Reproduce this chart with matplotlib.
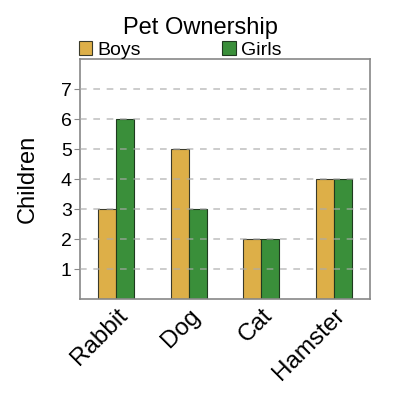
import matplotlib
matplotlib.use("Agg")
import matplotlib.pyplot as plt
import numpy as np

plt.rcParams['font.family'] = ['Liberation Sans', 'DejaVu Sans']

# chart data
pets = ["Rabbit", "Dog", "Cat", "Hamster"]
boys = [3, 5, 2, 4]
girls = [6, 3, 2, 4]

boy_color = "#DDAF48"
girl_color = "#3A8F3A"

fig = plt.figure(figsize=(4, 4), dpi=100)
ax = fig.add_axes([0.20, 0.2525, 0.725, 0.60])

x = np.arange(len(pets))
w = 0.25
ax.bar(x - w / 2, boys, w, color=boy_color, edgecolor="#3a3a2a", linewidth=0.8, label="Boys")
ax.bar(x + w / 2, girls, w, color=girl_color, edgecolor="#1f3a1f", linewidth=0.8, label="Girls")

ax.set_xlim(-0.5, len(pets) - 0.5)
ax.set_ylim(0, 8)
ax.set_yticks(range(1, 8))
ax.tick_params(axis='y', labelsize=14, length=4, color="#888888", pad=2)
ax.tick_params(axis='x', length=0, labelsize=17.5, pad=4)
ax.set_xticks(x)
ax.set_xticklabels(pets, rotation=45, ha='right', rotation_mode='anchor')

for y in range(1, 8):
    ax.axhline(y, color="#aaaaaa", linestyle=(0, (4, 4)), linewidth=1.2, alpha=0.7, zorder=3)

for s in ax.spines.values():
    s.set_color("#888888")
    s.set_linewidth(1.2)

ax.set_ylabel("Children", fontsize=17, labelpad=16)
fig.text(0.5, 0.93, "Pet Ownership", ha='center', va='center', fontsize=17)

leg = ax.legend(loc='lower left', bbox_to_anchor=(-0.005, 1.0), ncol=2, frameon=False,
                fontsize=14, handlelength=0.7, handleheight=0.7, handletextpad=0.25,
                columnspacing=4.2, borderaxespad=0, borderpad=0)

fig.savefig("out.png", dpi=100)
